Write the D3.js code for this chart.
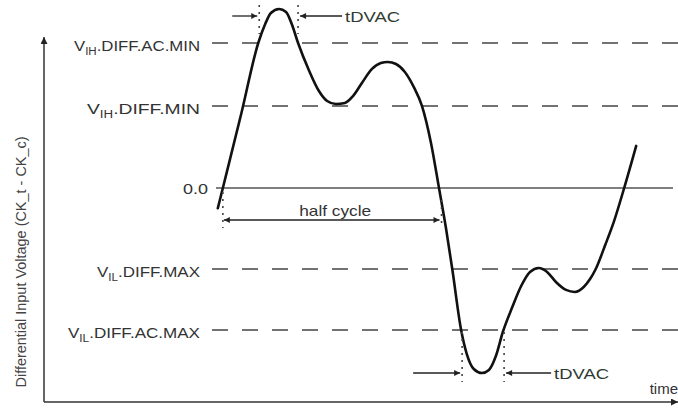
<!DOCTYPE html>
<html>
<head>
<meta charset="utf-8">
<script src="https://cdn.jsdelivr.net/npm/d3@7/dist/d3.min.js"></script>
<style>
  html, body { margin: 0; padding: 0; background: #fff; }
  svg { display: block; font-family: "Liberation Sans", Arial, Helvetica, sans-serif; }
</style>
</head>
<body>
<svg id="chart" width="678" height="408"></svg>
<script>
// ---------------- data ----------------
// reference levels (arbitrary voltage units; 1.0 = VIH.DIFF.AC.MIN)
const levelValues = [1.0, 0.566, 0, -0.559, -0.979];
const levelSubs   = ["IH", "IH", null, "IL", "IL"];
const levelRests  = [".DIFF.AC.MIN", ".DIFF.MIN", "0.0", ".DIFF.MAX", ".DIFF.AC.MAX"];
const levelWidths = [126, 113, 25, 103, 132];

// differential clock waveform (time in arbitrary units 0..100)
const curveTime = [27.5, 28.3, 31.2, 33.9, 35.0, 35.9, 37.2, 38.3, 39.2, 40.2,
  41.9, 43.5, 44.8, 46.2, 47.6, 48.9, 50.3, 51.9, 53.3, 54.4,
  55.7, 57.1, 58.5, 59.8, 61.2, 62.5, 63.6, 64.6, 66.0, 66.9,
  68.0, 69.3, 70.4, 71.5, 72.6, 74.1, 75.5, 76.9, 78.3, 79.6,
  81.0, 82.6, 84.0, 85.4, 86.4, 87.3, 88.8, 90.2, 91.8, 93.7];
const curveVoltage = [-0.14, 0, 0.51, 1.0, 1.131, 1.207, 1.234, 1.214, 1.131, 1.0,
  0.814, 0.669, 0.6, 0.579, 0.586, 0.634, 0.724, 0.821, 0.862, 0.869,
  0.855, 0.8, 0.697, 0.566, 0.317, 0, -0.276, -0.559, -0.979, -1.145,
  -1.248, -1.276, -1.255, -1.159, -0.993, -0.821, -0.676, -0.579, -0.552, -0.579,
  -0.648, -0.703, -0.717, -0.683, -0.628, -0.559, -0.393, -0.228, 0, 0.29];

// annotation intervals (time units)
const tdvacIntervals = [[33.9, 40.2], [66.0, 72.8]];
const tdvacLevels    = [1.0, -0.979];
const halfCycle      = [28.3, 62.9];

// texts
const yAxisTitle = "Differential Input Voltage (CK_t - CK_c)";
const xAxisTitle = "time";
const tdvacLabel = "tDVAC";
const halfCycleLabel = "half cycle";

// ---------------- layout ----------------
const svg = d3.select("#chart");
const x = d3.scaleLinear().domain([0, 100]).range([44, 676]);
const y = d3.scaleLinear().domain([-1, 1]).range([333, 43]);
const axisX0 = 44, axisY0 = 402;

const defs = svg.append("defs");
function marker(id, w, h, color) {
  defs.append("marker").attr("id", id)
    .attr("viewBox", "0 0 10 10").attr("refX", 10).attr("refY", 5)
    .attr("markerUnits", "userSpaceOnUse")
    .attr("markerWidth", w).attr("markerHeight", h)
    .attr("orient", "auto-start-reverse")
    .append("path").attr("d", "M0,0 L10,5 L0,10 Z").attr("fill", color);
}
marker("axisArrow", 10, 7, "#222");
marker("annArrow", 10, 6, "#222");

// axes
svg.append("line").attr("x1", axisX0).attr("y1", axisY0).attr("x2", axisX0).attr("y2", 37)
  .attr("stroke", "#333").attr("stroke-width", 1.5).attr("marker-end", "url(#axisArrow)");
svg.append("line").attr("x1", axisX0).attr("y1", axisY0).attr("x2", 678).attr("y2", axisY0)
  .attr("stroke", "#333").attr("stroke-width", 1.5).attr("marker-end", "url(#axisArrow)");

svg.append("text")
  .attr("transform", "translate(26,262) scale(1.2,1) rotate(-90)")
  .attr("text-anchor", "middle")
  .attr("font-size", 12.5).attr("fill", "#444")
  .attr("textLength", 251).attr("lengthAdjust", "spacingAndGlyphs")
  .text(yAxisTitle);

svg.append("text").attr("x", 678).attr("y", 394).attr("text-anchor", "end")
  .attr("font-size", 15).attr("fill", "#333").text(xAxisTitle);

// level lines
levelValues.forEach((v, i) => {
  const ly = y(v);
  if (v === 0) {
    svg.append("line").attr("x1", 216).attr("x2", 673).attr("y1", ly).attr("y2", ly)
      .attr("stroke", "#555").attr("stroke-width", 1.6);
  } else {
    svg.append("line").attr("x1", 212).attr("x2", 678).attr("y1", ly).attr("y2", ly)
      .attr("stroke", "#444").attr("stroke-width", 1.6).attr("stroke-dasharray", "16,14");
  }
  const t = svg.append("text")
    .attr("x", v === 0 ? 208 : 200)
    .attr("y", ly + (v === 0 ? 6 : 8))
    .attr("text-anchor", "end").attr("font-size", 14.5).attr("fill", "#333")
    .attr("textLength", levelWidths[i]).attr("lengthAdjust", "spacingAndGlyphs");
  if (levelSubs[i]) {
    t.append("tspan").text("V");
    t.append("tspan").attr("font-size", 10).attr("dy", 4).text(levelSubs[i]);
    t.append("tspan").attr("dy", -4).text(levelRests[i]);
  } else {
    t.text(levelRests[i]);
  }
});

// waveform
const pts = curveTime.map((t, i) => [x(t), y(curveVoltage[i])]);
svg.append("path")
  .attr("d", d3.line().curve(d3.curveMonotoneX)(pts))
  .attr("fill", "none").attr("stroke", "#111").attr("stroke-width", 2.6)
  .attr("stroke-linejoin", "round").attr("stroke-linecap", "round");

// dotted markers helper
function dotted(px, y1, y2) {
  svg.append("line").attr("x1", px).attr("x2", px).attr("y1", y1).attr("y2", y2)
    .attr("stroke", "#444").attr("stroke-width", 1.6).attr("stroke-dasharray", "2,5");
}
function arrow(x1, x2, ay) {
  svg.append("line").attr("x1", x1).attr("x2", x2).attr("y1", ay).attr("y2", ay)
    .attr("stroke", "#222").attr("stroke-width", 1.3).attr("marker-end", "url(#annArrow)");
}

// tDVAC annotations
tdvacIntervals.forEach((iv, k) => {
  const xa = x(iv[0]), xb = x(iv[1]);
  const top = k === 0;
  const ay = top ? 16 : 373;
  const y1 = top ? 5 : y(tdvacLevels[k]) + 2;
  const y2 = top ? 34 : 382;
  dotted(xa + 1, y1, y2);
  dotted(xb, y1, y2);
  arrow(top ? xa - 26 : xa - 48, xa - 1, ay);
  arrow(top ? xb + 44 : xb + 47, xb + 2, ay);
  svg.append("text").attr("x", top ? xb + 47 : xb + 50).attr("y", ay + 6)
    .attr("font-size", 15).attr("fill", "#2f3a33")
    .attr("textLength", 55).attr("lengthAdjust", "spacingAndGlyphs")
    .text(tdvacLabel);
});

// half cycle annotation
const hx1 = x(halfCycle[0]), hx2 = x(halfCycle[1]);
dotted(hx1, y(0) + 4, 228);
dotted(hx2, y(0) + 12, 228);
svg.append("line").attr("x1", hx1 + 1).attr("x2", hx2 - 2).attr("y1", 220).attr("y2", 220)
  .attr("stroke", "#222").attr("stroke-width", 1.3)
  .attr("marker-start", "url(#annArrow)").attr("marker-end", "url(#annArrow)");
svg.append("text").attr("x", (hx1 + hx2) / 2 + 3).attr("y", 216).attr("text-anchor", "middle")
  .attr("font-size", 15).attr("fill", "#333")
  .attr("textLength", 72).attr("lengthAdjust", "spacingAndGlyphs")
  .text(halfCycleLabel);
</script>
</body>
</html>
